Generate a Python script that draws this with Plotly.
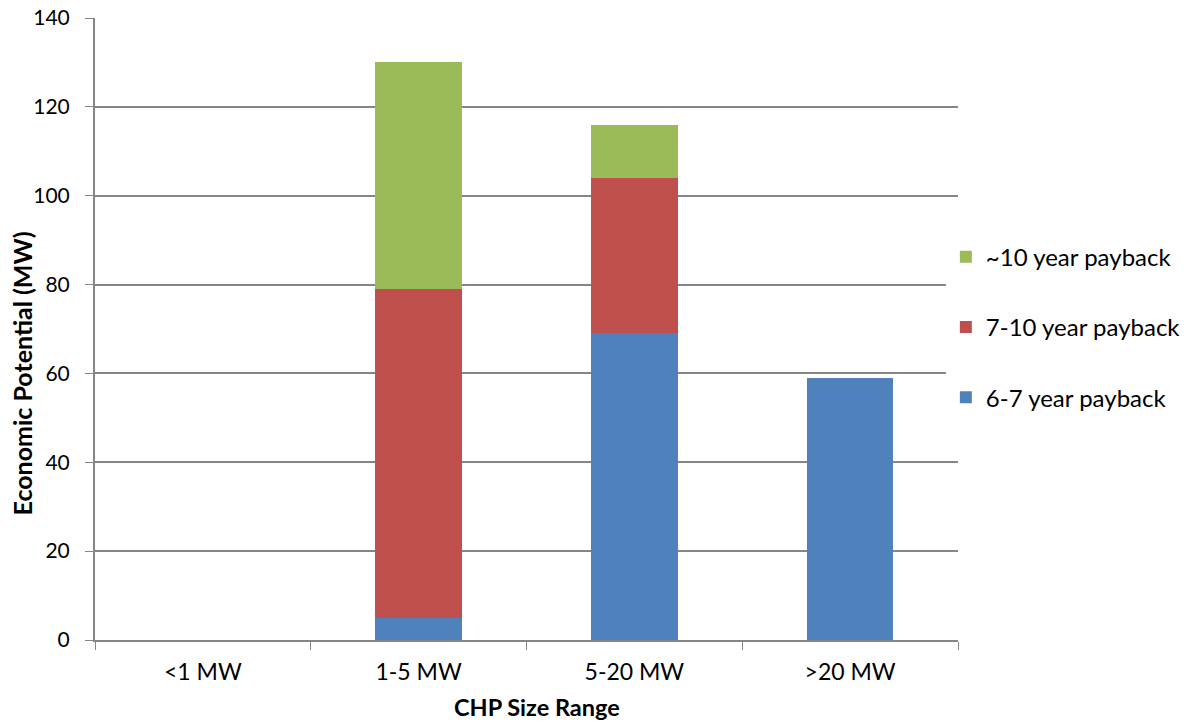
import plotly.graph_objects as go

categories = ["<1 MW", "1-5 MW", "5-20 MW", ">20 MW"]
payback_6_7 = [0, 5, 69, 59]
payback_7_10 = [0, 74, 35, 0]
payback_10 = [0, 51, 12, 0]

series = [
    ("6-7 year payback", payback_6_7, "#4F81BD", 3),
    ("7-10 year payback", payback_7_10, "#C0504D", 2),
    ("~10 year payback", payback_10, "#9BBB59", 1),
]

fig = go.Figure()
for i, (name, vals, col, rank) in enumerate(series):
    fig.add_trace(go.Bar(
        x=categories, y=vals, name=name, marker_color=col,
        marker_line_width=0, legendgroup=f"g{i}", legendrank=rank,
    ))

font_family = "Lato, 'Open Sans', sans-serif"
fig.update_layout(
    barmode="stack",
    bargap=0.6,
    width=1189, height=724,
    margin=dict(l=95, r=231, t=18, b=84, autoexpand=False),
    plot_bgcolor="white", paper_bgcolor="white",
    font=dict(family=font_family, size=22, color="#000000"),
    legend=dict(xref="container", yref="container", x=0.7955, y=0.548,
                xanchor="left", yanchor="middle",
                traceorder="grouped", tracegroupgap=36,
                font=dict(size=24), itemwidth=30),
    showlegend=True,
    annotations=[
        dict(text="<b>CHP Size Range</b>", xref="paper", yref="paper",
             x=0.512, y=0, xanchor="center", yanchor="middle", yshift=-67,
             showarrow=False, font=dict(size=23.5)),
        dict(text="<b>Economic Potential (MW)</b>", xref="paper", yref="paper",
             x=0, y=0.4285, xanchor="center", yanchor="middle", xshift=-73,
             textangle=-90, showarrow=False, font=dict(size=25)),
    ],
)
fig.update_xaxes(
    type="category", tickson="boundaries", ticks="outside", ticklen=8,
    tickcolor="#868686", showline=True, linecolor="#868686", linewidth=2,
    showgrid=False, tickfont=dict(size=23), ticklabelstandoff=10,
    automargin=False,
)
fig.update_yaxes(
    range=[0, 140], dtick=20, ticks="outside", ticklen=8, tickcolor="#868686",
    showline=True, linecolor="#868686", linewidth=2,
    showgrid=True, gridcolor="#868686", gridwidth=1.5, zeroline=False,
    tickfont=dict(size=21), ticklabelstandoff=11, automargin=False,
)
fig.write_html(
    "out.html",
    config={"displayModeBar": False},
    post_script="document.body.style.margin='0';document.body.style.overflow='hidden';",
)
